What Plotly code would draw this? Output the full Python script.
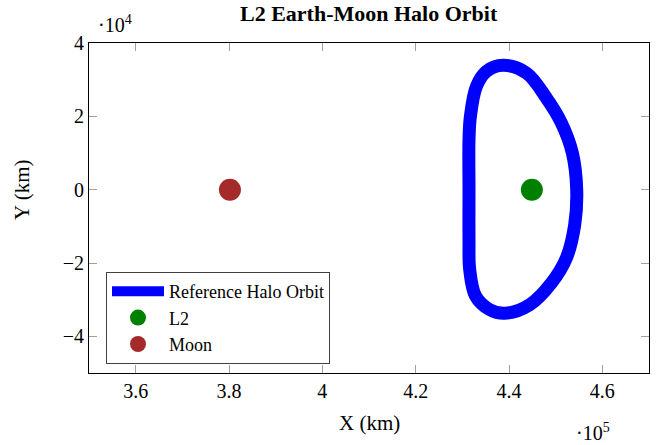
import plotly.graph_objects as go

# Data (km)
orbit_x = [438700, 443730, 448010, 451230, 453580, 454510, 454080, 452300, 449090,
           444440, 439080, 435860, 432860, 431580, 431430, 431430, 431430, 431730,
           433020, 435160, 438700]
orbit_y = [33900, 31820, 25000, 18190, 10000, 0, -9545, -18630, -25450,
           -31360, -33730, -32720, -29090, -21820, -13640, 0, 13640, 19990,
           28170, 32260, 33900]
l2_x = [444900]
l2_y = [0]
moon_x = [380200]
moon_y = [0]

x_tickvals = [360000, 380000, 400000, 420000, 440000, 460000]
x_ticktext = ["3.6", "3.8", "4", "4.2", "4.4", "4.6"]
y_tickvals = [-40000, -20000, 0, 20000, 40000]
y_ticktext = ["\u22124", "\u22122", "0", "2", "4"]

FONT = "Liberation Serif"

fig = go.Figure()
fig.add_trace(go.Scatter(x=orbit_x, y=orbit_y, mode="lines", name="Reference Halo Orbit",
                         line=dict(color="#0000ff", width=13, shape="spline", smoothing=1.0)))
fig.add_trace(go.Scatter(x=l2_x, y=l2_y, mode="markers", name="L2",
                         marker=dict(color="#008000", size=22)))
fig.add_trace(go.Scatter(x=moon_x, y=moon_y, mode="markers", name="Moon",
                         marker=dict(color="#a52a2a", size=22)))

axis_common = dict(showgrid=False, zeroline=False, showline=True, linecolor="black",
                   linewidth=1, mirror="allticks", ticks="inside", ticklen=8,
                   tickcolor="#a0a0a0", tickwidth=1,
                   tickfont=dict(family=FONT, size=20, color="black"))

fig.update_xaxes(range=[350000, 470000], tickvals=x_tickvals, ticktext=x_ticktext, **axis_common)
fig.update_yaxes(range=[-50000, 40000], tickvals=y_tickvals, ticktext=y_ticktext, **axis_common)

W, H = 667, 445
L, R, T, B = 89, 18, 43, 72
pw, ph = W - L - R, H - T - B


def px(x):
    return (x - L) / pw


def py(y):
    return (H - B - y) / ph


fig.update_layout(
    width=W, height=H,
    margin=dict(l=L, r=R, t=T, b=B),
    paper_bgcolor="white", plot_bgcolor="white",
    font=dict(family=FONT, color="black"),
    showlegend=True,
    legend=dict(x=px(106), y=py(364), xanchor="left", yanchor="bottom",
                bgcolor="white", bordercolor="#404040", borderwidth=1,
                font=dict(family=FONT, size=18, color="black"),
                itemwidth=52, tracegroupgap=0),
)

fig.add_annotation(text="<b>L2 Earth-Moon Halo Orbit</b>", x=px(369), y=py(14), xref="paper", yref="paper",
                   showarrow=False, font=dict(family=FONT, size=22), xanchor="center", yanchor="middle")
fig.add_annotation(text="X (km)", x=px(369), y=py(423), xref="paper", yref="paper",
                   showarrow=False, font=dict(family=FONT, size=21), xanchor="center", yanchor="middle")
fig.add_annotation(text="Y (km)", x=px(22), y=py(190), xref="paper", yref="paper", textangle=-90,
                   showarrow=False, font=dict(family=FONT, size=21), xanchor="center", yanchor="middle")
fig.add_annotation(text="\u00b710<sup>4</sup>", x=px(96), y=py(24), xref="paper", yref="paper",
                   showarrow=False, font=dict(family=FONT, size=20), xanchor="left", yanchor="middle")
fig.add_annotation(text="\u00b710<sup>5</sup>", x=px(574), y=py(432), xref="paper", yref="paper",
                   showarrow=False, font=dict(family=FONT, size=20), xanchor="left", yanchor="middle")

fig.write_html("out.html")
